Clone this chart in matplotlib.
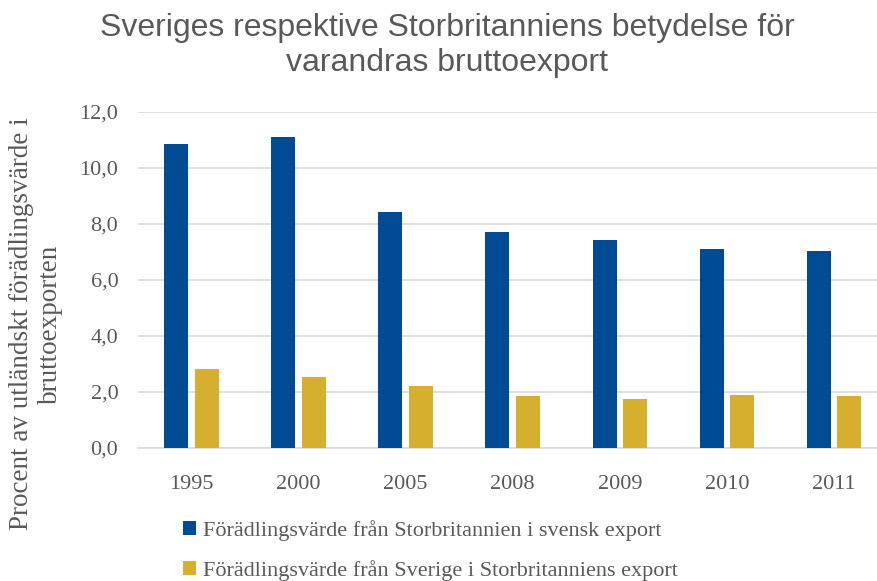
import matplotlib.pyplot as plt
import numpy as np

years = ['1995', '2000', '2005', '2008', '2009', '2010', '2011']
uk_in_se = [10.84, 11.11, 8.42, 7.71, 7.41, 7.09, 7.01]
se_in_uk = [2.82, 2.51, 2.19, 1.86, 1.75, 1.87, 1.85]
labels = ['Förädlingsvärde från Storbritannien i svensk export',
          'Förädlingsvärde från Sverige i Storbritanniens export']
yticks = [0, 2, 4, 6, 8, 10, 12]

blue = '#004B93'
gold = '#D5AF2D'
grey = '#595959'
serif = 'Liberation Serif'

fig = plt.figure(figsize=(8.77, 5.81), dpi=100)
# axes runs a bit past the right edge, like the cropped original
ax = fig.add_axes([137.7 / 877, 1 - 447.7 / 581, 750 / 877, 336 / 581])

x = np.arange(len(years))
w = 0.224
ax.bar(x - 0.143, uk_in_se, w, color=blue, label=labels[0], zorder=3)
ax.bar(x + 0.143, se_in_uk, w, color=gold, label=labels[1], zorder=3)

ax.set_xlim(-0.5, len(years) - 0.5)
ax.set_ylim(0, 12)
ax.set_yticks(yticks)
ax.set_yticklabels([f'{v:.1f}'.replace('.', ',') for v in yticks])
ax.set_xticks(x)
ax.set_xticklabels(years)
ax.tick_params(length=0, labelcolor=grey, labelsize=16)
ax.tick_params(axis='x', pad=19.5)
ax.tick_params(axis='y', pad=14)
for t in ax.get_xticklabels() + ax.get_yticklabels():
    t.set_family(serif)

ax.grid(axis='y', color='#D9D9D9', lw=1.2, zorder=0)
for s in ['top', 'right', 'left']:
    ax.spines[s].set_visible(False)
ax.spines['bottom'].set_color('#D9D9D9')
ax.spines['bottom'].set_linewidth(1.2)

fig.text(447 / 877, 1 - 13 / 581,
         'Sveriges respektive Storbritanniens betydelse för\nvarandras bruttoexport',
         ha='center', va='top', fontsize=23, color=grey,
         family='Liberation Sans', linespacing=1.2)

fig.text(36 / 877, 1 - 324 / 581,
         'Procent av utländskt förädlingsvärde i\nbruttoexporten',
         rotation=90, ha='center', va='center', multialignment='center',
         fontsize=19.5, color=grey, family=serif, linespacing=1.2)

fig.legend(loc='upper left', bbox_to_anchor=(163 / 877, 1 - 500 / 581),
           frameon=False, ncol=1, handlelength=0.6, handleheight=0.6,
           handletextpad=0.3, labelspacing=0.85,
           prop={'family': serif, 'size': 16}, labelcolor=grey)

fig.savefig('out.png', dpi=100)
